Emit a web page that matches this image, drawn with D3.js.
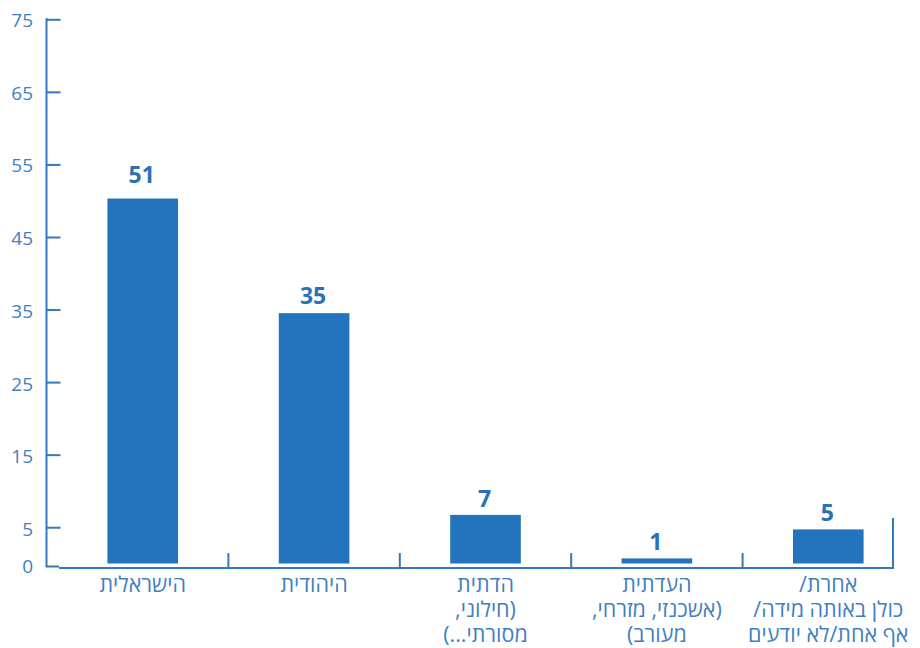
<!DOCTYPE html>
<html>
<head>
<meta charset="utf-8">
<script src="https://cdn.jsdelivr.net/npm/d3@7"></script>
<style>
  html, body { margin: 0; padding: 0; background: #ffffff; }
  svg { display: block; }
</style>
</head>
<body>
<svg id="chart" width="920" height="648"></svg>
<script>
// ---- data ----
const categories = [
  ["הישראלית"],
  ["היהודית"],
  ["הדתית", "(חילוני,", "מסורתי...)"],
  ["העדתית", "(אשכנזי, מזרחי,", "מעורב)"],
  ["אחרת/", "כולן באותה מידה/", "אף אחת/לא יודעים"]
];
const barValues = [50.3, 34.5, 6.7, 0.7, 4.7];
const labelValues = [51, 35, 7, 1, 5];
const yTicks = [0, 5, 15, 25, 35, 45, 55, 65, 75];

// ---- layout ----
const W = 920, H = 648;
const axisX = 46.5, axisTop = 19.3, zeroY = 563.5, baseY = 567;
const plotLeft = 59, plotRight = 893;
const barColor = "#2474bd";
const axisColor = "#3478bd";
const textColor = "#3f80c2";
const font = "'Open Sans', 'DejaVu Sans', sans-serif";

const svg = d3.select("#chart");

const x = d3.scaleBand()
  .domain(d3.range(categories.length))
  .range([57, 914])
  .padding(0);

const y = d3.scaleLinear()
  .domain([0, 75])
  .range([zeroY, axisTop]);

// bars
const barW = x.bandwidth() * 0.412;
svg.append("g").selectAll("rect")
  .data(barValues)
  .join("rect")
  .attr("x", (d, i) => x(i) + x.bandwidth() / 2 - barW / 2)
  .attr("y", d => y(d))
  .attr("width", barW)
  .attr("height", d => y(0) - y(d))
  .attr("fill", barColor);

// value labels
svg.append("g").selectAll("text")
  .data(labelValues)
  .join("text")
  .attr("x", (d, i) => x(i) + x.bandwidth() / 2 - 1)
  .attr("y", d => y(d) - 6 - (d > 40 ? 4 : 0))
  .attr("text-anchor", "middle")
  .attr("font-family", font)
  .attr("font-weight", 700)
  .attr("font-size", 23)
  .attr("fill", "#2a71b6")
  .text(d => d);

// y axis
const yAxis = d3.axisRight(y)
  .tickValues(yTicks.filter(t => t > 0))
  .tickSize(14)
  .tickSizeOuter(0)
  .tickFormat("");
const gy = svg.append("g")
  .attr("transform", `translate(${axisX},0)`)
  .call(yAxis);
gy.select(".domain").remove();
gy.selectAll(".tick line").attr("stroke", axisColor).attr("stroke-width", 2);

// y axis line with bottom corner
svg.append("path")
  .attr("d", `M${axisX},${axisTop - 1}V${baseY - 0.5}H${plotLeft}`)
  .attr("fill", "none")
  .attr("stroke", axisColor)
  .attr("stroke-width", 2);

// y tick labels
svg.append("g").selectAll("text")
  .data(yTicks)
  .join("text")
  .attr("x", 33)
  .attr("y", d => y(d) + 9 - d * 0.02)
  .attr("text-anchor", "end")
  .attr("font-family", font)
  .attr("font-size", 19)
  .attr("fill", textColor)
  .text(d => d);

// x axis line
svg.append("line")
  .attr("x1", plotLeft).attr("x2", plotRight)
  .attr("y1", baseY + 1).attr("y2", baseY + 1)
  .attr("stroke", axisColor)
  .attr("stroke-width", 2);

// x category boundary ticks
const boundaries = d3.range(1, categories.length).map(i => x(i));
svg.append("g").selectAll("line")
  .data(boundaries)
  .join("line")
  .attr("x1", d => d).attr("x2", d => d)
  .attr("y1", baseY - 14).attr("y2", baseY + 1)
  .attr("stroke", axisColor)
  .attr("stroke-width", 2);
// right end tick
svg.append("line")
  .attr("x1", plotRight).attr("x2", plotRight)
  .attr("y1", 518).attr("y2", baseY + 2)
  .attr("stroke", axisColor)
  .attr("stroke-width", 2);

// category labels
const catG = svg.append("g").selectAll("text")
  .data(categories)
  .join("text")
  .attr("text-anchor", "middle")
  .attr("direction", "rtl")
  .attr("font-family", font)
  .attr("font-size", 21.5)
  .attr("fill", textColor);
catG.selectAll("tspan")
  .data((d, i) => d.map(line => ({ line, i })))
  .join("tspan")
  .attr("x", d => x(d.i) + x.bandwidth() / 2)
  .attr("y", (d, j) => 592 + j * 25)
  .text(d => d.line);
</script>
</body>
</html>
